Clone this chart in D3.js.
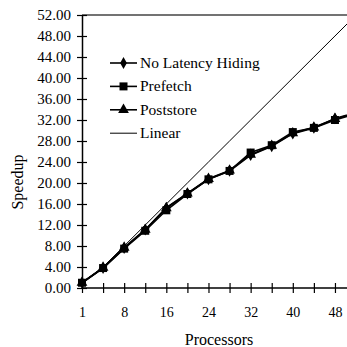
<!DOCTYPE html>
<html>
<head>
<meta charset="utf-8">
<script src="https://cdn.jsdelivr.net/npm/d3@7"></script>
<style>
  body { margin: 0; background: #fff; }
  svg { display: block; font-family: "Liberation Serif", "Times New Roman", serif; }
</style>
</head>
<body>
<svg width="347" height="347"></svg>
<script>
// processor counts (category axis)
var procs = [1, 4, 8, 12, 16, 20, 24, 28, 32, 36, 40, 44, 48, 52];

// speedups
var noHiding  = [1.0, 3.8, 7.6, 11.1, 15.3, 18.0, 20.7, 22.3, 25.3, 27.0, 29.4, 30.5, 32.3, 33.4];
var prefetch  = [1.0, 3.8, 7.5, 10.9, 14.8, 17.9, 20.7, 22.3, 25.8, 27.2, 29.7, 30.5, 32.0, 33.2];
var poststore = [1.0, 3.9, 7.7, 11.1, 15.2, 18.0, 20.8, 22.4, 25.4, 27.1, 29.5, 30.6, 32.2, 33.3];
var linear    = [1, 4, 8, 12, 16, 20, 24, 28, 32, 36, 40, 44, 48, 52];

var yTicks = d3.range(0, 53, 4);
var legendNames = ["No Latency Hiding", "Prefetch", "Poststore", "Linear"];

var svg = d3.select('svg');

var margins = { top: 15, left: 82, bottom: 59 };
var step = 21.08;
var plotBottom = 347 - margins.bottom;

var xScale = d3.scalePoint()
               .domain(procs)
               .range([margins.left, margins.left + step * (procs.length - 1)]);

var yScale = d3.scaleLinear()
               .domain([0, 52])
               .range([plotBottom, margins.top]);

// top border of the plot area
svg.append('line')
   .attr('x1', margins.left).attr('x2', 400)
   .attr('y1', margins.top).attr('y2', margins.top)
   .attr('stroke', '#444').attr('stroke-width', 1.5);

// y axis
var yAxis = d3.axisLeft(yScale)
              .tickValues(yTicks)
              .tickFormat(d3.format('.2f'))
              .tickSizeInner(5).tickSizeOuter(0).tickPadding(6);
var yg = svg.append('g')
   .attr('transform', 'translate(' + margins.left + ',0)')
   .call(yAxis);
yg.selectAll('.tick line').attr('x2', 5).attr('x1', -5);
yg.selectAll('text').attr('font-size', 15).attr('fill', '#000')
  .attr('font-family', '"Liberation Serif", serif');
yg.select('.domain').attr('stroke', '#000').attr('stroke-width', 1.5);
yg.selectAll('.tick line').attr('stroke', '#000').attr('stroke-width', 1.2);

// x axis
var xAxis = d3.axisBottom(xScale)
              .tickSizeInner(5).tickSizeOuter(0).tickPadding(14)
              .tickFormat(function(d, i){ return i % 2 === 0 ? d : ''; });
var xg = svg.append('g')
   .attr('transform', 'translate(0,' + plotBottom + ')')
   .call(xAxis);
xg.select('.domain').attr('d', 'M' + margins.left + ',0H400')
  .attr('stroke', '#000').attr('stroke-width', 1.5);
xg.selectAll('.tick line').attr('y1', -5).attr('y2', 5)
  .attr('stroke', '#000').attr('stroke-width', 1.2);
xg.selectAll('text').attr('font-size', 14).attr('fill', '#000')
  .attr('font-family', '"Liberation Serif", serif');

// axis titles
svg.append('text')
   .attr('x', 219).attr('y', 345)
   .attr('text-anchor', 'middle')
   .attr('font-size', 16)
   .text('Processors');

svg.append('text')
   .attr('transform', 'translate(23,182) rotate(-90)')
   .attr('text-anchor', 'middle')
   .attr('font-size', 16)
   .text('Speedup');

// marker shapes
var sym = {
  diamond: d3.symbol().type(d3.symbolDiamond).size(40),
  square: d3.symbol().type(d3.symbolSquare).size(64),
  triangle: d3.symbol().type(d3.symbolTriangle).size(50)
};

var line = d3.line()
             .x(function(d, i){ return xScale(procs[i]); })
             .y(function(d){ return yScale(d); });

// linear reference
svg.append('path')
   .attr('d', line(linear))
   .attr('fill', 'none').attr('stroke', '#000').attr('stroke-width', 1);

var series = [
  { vals: poststore, shape: sym.triangle },
  { vals: noHiding, shape: sym.diamond },
  { vals: prefetch, shape: sym.square }
];

series.forEach(function(s){
  svg.append('path')
     .attr('d', line(s.vals))
     .attr('fill', 'none').attr('stroke', '#000').attr('stroke-width', 1.6);
  svg.append('g').selectAll('path')
     .data(s.vals).enter().append('path')
     .attr('d', s.shape)
     .attr('transform', function(d, i){
       return 'translate(' + xScale(procs[i]) + ',' + yScale(d) + ')';
     })
     .attr('fill', '#000');
});

// legend
var legendShapes = [sym.diamond, sym.square, sym.triangle, null];
var legend = svg.append('g');
legendNames.forEach(function(name, i){
  var y = 63 + i * 23.4;
  legend.append('line')
        .attr('x1', 110).attr('x2', 137)
        .attr('y1', y).attr('y2', y)
        .attr('stroke', '#000').attr('stroke-width', i < 3 ? 1.6 : 1);
  if (legendShapes[i]) {
    legend.append('path')
          .attr('d', legendShapes[i])
          .attr('transform', 'translate(123.5,' + y + ')')
          .attr('fill', '#000');
  }
  legend.append('text')
        .attr('x', 140).attr('y', y + 5)
        .attr('font-size', 15.5)
        .text(name);
});
</script>
</body>
</html>
